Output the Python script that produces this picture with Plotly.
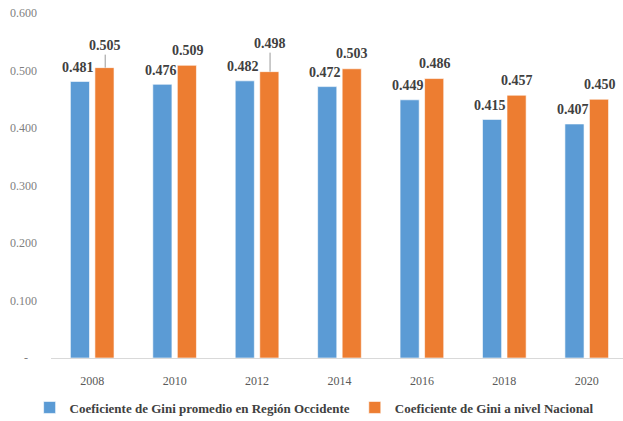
import plotly.graph_objects as go

years = ["2008", "2010", "2012", "2014", "2016", "2018", "2020"]
gini_occidente = [0.481, 0.476, 0.482, 0.472, 0.449, 0.415, 0.407]
gini_nacional = [0.505, 0.509, 0.498, 0.503, 0.486, 0.457, 0.450]
series_names = [
    "Coeficiente de Gini promedio en Región Occidente",
    "Coeficiente de Gini a nivel Nacional",
]
y_ticks = [0, 0.1, 0.2, 0.3, 0.4, 0.5, 0.6]
y_ticktext = ["-\u00a0\u00a0\u00a0", "0.100", "0.200", "0.300", "0.400", "0.500", "0.600"]

BLUE, ORANGE = "#5B9BD5", "#ED7D31"
SERIF = "Liberation Serif, Times New Roman, serif"
LABEL_FONT = dict(family=SERIF, size=14, color="#404040", weight="bold")

fig = go.Figure()
fig.add_trace(go.Bar(x=years, y=gini_occidente, name=series_names[0],
                     marker=dict(color=BLUE, line=dict(color="white", width=0.6))))
fig.add_trace(go.Bar(x=years, y=gini_nacional, name=series_names[1],
                     marker=dict(color=ORANGE, line=dict(color="white", width=0.6))))

# data labels (x given as category index); two orange labels lifted with a leader line
leader_lift = {"2008": 22, "2012": 28}
for i, (yr, v) in enumerate(zip(years, gini_occidente)):
    fig.add_annotation(x=i, y=v, xref="x", yref="y", xshift=-14, yshift=14,
                       showarrow=False, text=f"{v:.3f}", font=LABEL_FONT)
for i, (yr, v) in enumerate(zip(years, gini_nacional)):
    if yr in leader_lift:
        fig.add_annotation(x=i, y=v, xref="x", yref="y", xshift=13, ax=0,
                           ay=-leader_lift[yr], showarrow=True, arrowcolor="#7F7F7F",
                           arrowwidth=0.8, arrowhead=0, standoff=0,
                           text=f"{v:.3f}", font=LABEL_FONT)
    else:
        fig.add_annotation(x=i, y=v, xref="x", yref="y", xshift=13, yshift=15,
                           showarrow=False, text=f"{v:.3f}", font=LABEL_FONT)

fig.update_layout(
    barmode="group", bargap=0.405, bargroupgap=0.22,
    width=623, height=421,
    margin=dict(l=51, r=0, t=13, b=63, autoexpand=False),
    plot_bgcolor="white", paper_bgcolor="white",
    font=dict(family=SERIF, size=12, color="#7F7F7F"),
    showlegend=True,
    legend=dict(orientation="h", x=0.46, xanchor="center", y=-0.10, yanchor="top",
                font=dict(family=SERIF, size=13, color="#404040", weight="bold"),
                itemwidth=30, traceorder="normal"),
)
fig.update_xaxes(type="category", range=[-0.5, 6.44], showline=True, linecolor="#D9D9D9",
                 linewidth=1.2, ticks="", showgrid=False, ticklabelstandoff=11,
                 automargin=False, tickfont=dict(size=12, color="#595959"))
fig.update_yaxes(range=[0, 0.6], tickvals=y_ticks, ticktext=y_ticktext, showgrid=False,
                 zeroline=False, showline=False, ticks="", ticklabelstandoff=13,
                 automargin=False, tickfont=dict(size=12, color="#7F7F7F"))

# drop the browser's default 8px body margin so the figure fills the window
fig.write_html("out.html", config={"displayModeBar": False},
               post_script="document.body.style.margin='0';")
